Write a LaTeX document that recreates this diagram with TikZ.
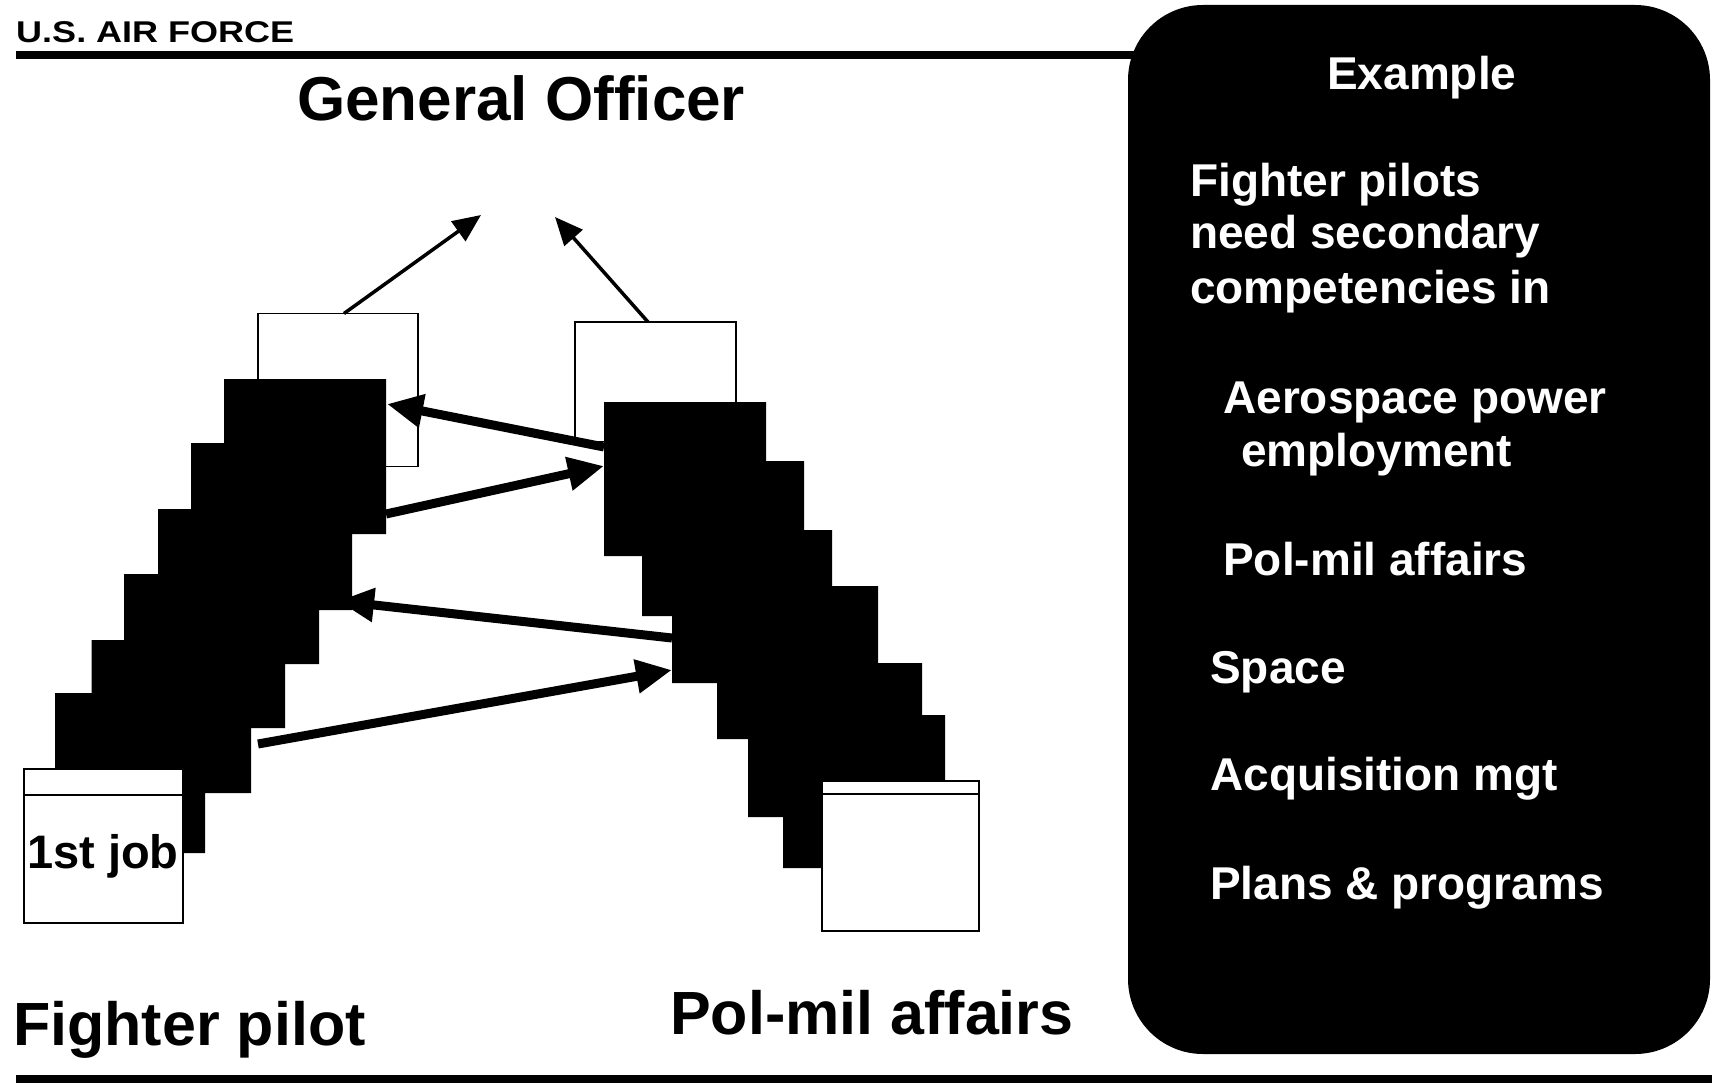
\documentclass[tikz,border=0pt]{standalone}
\usepackage{fontspec}
\setmainfont{Liberation Sans}
\usetikzlibrary{arrows.meta,calc}
\begin{document}
\begin{tikzpicture}[x=1pt,y=-1pt,
  lbl/.style={anchor=base west, inner sep=0pt, font=\bfseries\fontsize{#1}{#1}\selectfont},
  ptxt/.style={anchor=base west, inner sep=0pt, text=white, font=\bfseries\fontsize{46}{50}\selectfont},
  wbox/.style={draw, line width=1.8pt, fill=white, inner sep=0pt},
  thinarrow/.style={line width=3.5pt, -{Triangle[length=28pt,width=24pt]}},
  thickarrow/.style={line width=9pt, -{Triangle[length=36pt,width=32pt]}},
  stair/.style={fill=black}
]
\useasboundingbox (0,0) rectangle (1712,1083);
% right panel
\fill[black, rounded corners=75pt] (1128,5) rectangle (1710,1054);
% rules
\fill[black] (16,51) rectangle (1135,59);
\fill[black] (16,1075) rectangle (1712,1083);
% upper boxes
\node[wbox, minimum width=160pt, minimum height=153pt] (lbox) at (338,390) {};
\node[wbox, minimum width=161pt, minimum height=119.5pt] (rbox) at (655.5,381.75) {};
% staircases
\fill[stair] (224,379) -- (386,379) -- (386,534) -- (352,534) -- (352,610) -- (319,610)
  -- (319,664) -- (285,664) -- (285,728) -- (251,728) -- (251,793) -- (205,793)
  -- (205,853) -- (55,853) -- (55,693) -- (91.5,693) -- (91.5,640) -- (124,640)
  -- (124,574) -- (158,574) -- (158,509) -- (191,509) -- (191,443) -- (224,443) -- cycle;
\fill[stair] (604,402) -- (766,402) -- (766,461) -- (804,461) -- (804,530) -- (832,530)
  -- (832,586) -- (878,586) -- (878,663) -- (922,663) -- (922,715) -- (945,715)
  -- (945,800) -- (822,800) -- (822,868) -- (783,868) -- (783,817) -- (748,817)
  -- (748,739) -- (717,739) -- (717,683) -- (672,683) -- (672,616) -- (642,616)
  -- (642,556) -- (604,556) -- cycle;
% thin arrows to General Officer
\coordinate (a1s) at (344,313.5);
\coordinate (a1e) at (481,215);
\coordinate (a2s) at (648,322);
\coordinate (a2e) at (555,217);
\draw[thinarrow] (a1s) -- (a1e);
\draw[thinarrow] (a2s) -- (a2e);
% thick arrows between ladders
\coordinate (pA) at (604,447);  \coordinate (fA) at (387,404);
\coordinate (fB) at (386,514);  \coordinate (pB) at (604,466);
\coordinate (pC) at (672,638);  \coordinate (fC) at (338,601);
\coordinate (fD) at (258,744);  \coordinate (pD) at (672,670);
\draw[thickarrow] (pA) -- (fA);
\draw[thickarrow] (fB) -- (pB);
\draw[thickarrow] (pC) -- (fC);
\draw[thickarrow] (fD) -- (pD);
% lower boxes
\node[wbox, minimum width=159pt, minimum height=154pt] (jobbox) at (103.5,846) {};
\draw[line width=1.8pt] ($(jobbox.north west)+(0,27)$) -- ($(jobbox.north east)+(0,27)$);
\node[wbox, minimum width=157pt, minimum height=150pt] (pmbox) at (900.5,856) {};
\draw[line width=1.8pt] ($(pmbox.north west)+(0,14)$) -- ($(pmbox.north east)+(0,14)$);
% texts
\node[lbl=30, xscale=1.2] (usaf) at (16,43) {U.S. AIR FORCE};
\node[lbl=62] (go) at (297,121) {General Officer};
\node[lbl=61] (fp) at (13,1045) {Fighter pilot};
\node[lbl=61] (pm) at (670,1034) {Pol-mil affairs};
\node[lbl=47] (job) at (27,868) {1st job};
\node[ptxt] (ex) at (1327,90) {Example};
\node[ptxt] (t1) at (1190,197) {Fighter pilots};
\node[ptxt] (t2) at (1190,249) {need secondary};
\node[ptxt] (t3) at (1190,303) {competencies in};
\node[ptxt] (t4) at (1223,413) {Aerospace power};
\node[ptxt] (t5) at (1241,466) {employment};
\node[ptxt] (t6) at (1223,575) {Pol-mil affairs};
\node[ptxt] (t7) at (1210,683) {Space};
\node[ptxt] (t8) at (1210,790) {Acquisition mgt};
\node[ptxt] (t9) at (1210,899) {Plans \& programs};
\end{tikzpicture}
\end{document}
